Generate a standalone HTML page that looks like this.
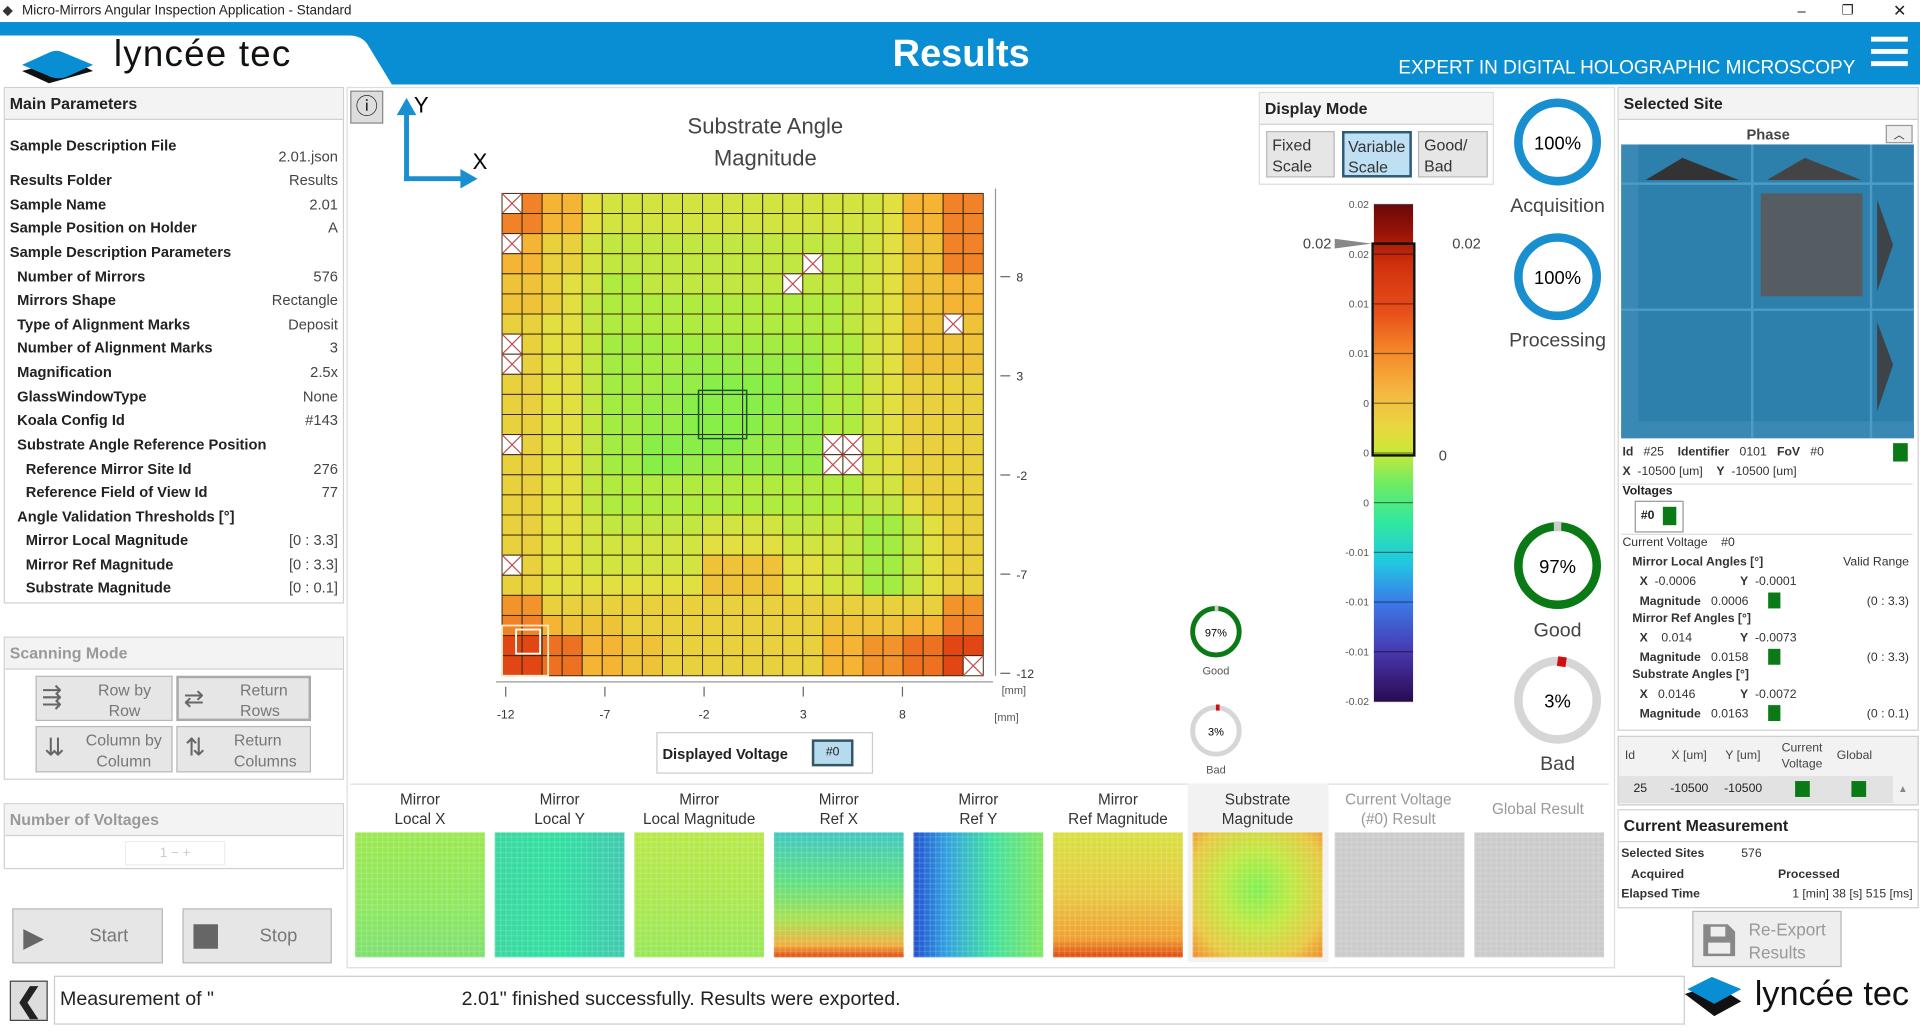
<!DOCTYPE html>
<html><head><meta charset="utf-8">
<style>
html,body{margin:0;padding:0;background:#fff;overflow:hidden}
#root{position:absolute;left:0;top:0;width:1568px;height:843px;transform:scale(1.22449,1.2242);transform-origin:0 0;font-family:"Liberation Sans",sans-serif;color:#222;background:#fff}
.a{position:absolute}
.b{font-weight:bold}
.lbl{position:absolute;font-size:12px;font-weight:bold;color:#222;white-space:nowrap}
.val{position:absolute;font-size:12px;color:#444;right:0;white-space:nowrap}
.panel{position:absolute;border:1px solid #d0d0d0;background:#fff}
.ph{position:absolute;left:0;right:0;top:0;background:#f3f3f3;border-bottom:1px solid #d0d0d0;font-size:13px;font-weight:bold;padding:5px 4px;box-sizing:border-box}
.btn{position:absolute;background:#e6e6e6;border:1px solid #b8b8b8;font-size:13px;color:#777;box-sizing:border-box}
.thumbT{position:absolute;font-size:12.5px;text-align:center;line-height:16px;color:#333}
.th{position:absolute;width:106px;height:102px;top:680px}
.th::after{content:"";position:absolute;inset:0;background-image:linear-gradient(90deg,rgba(255,255,255,0.12) 1px,transparent 1px),linear-gradient(0deg,rgba(255,255,255,0.12) 1px,transparent 1px);background-size:4.4px 4.25px}
</style></head><body>
<div id="root">
<!-- title bar -->
<div class="a" style="left:0;top:0;width:1568px;height:18px;background:#fff;font-size:11px;line-height:18px">
 <span style="position:absolute;left:2px;top:0;color:#333">◆</span><span style="position:absolute;left:18px">Micro-Mirrors Angular Inspection Application - Standard</span>
 <span style="position:absolute;left:1468px;font-size:12px">–</span>
 <span style="position:absolute;left:1504px;font-size:11px">❐</span>
 <span style="position:absolute;left:1546px;font-size:13px">✕</span>
</div>
<!-- header -->
<div class="a" style="left:0;top:18px;width:1568px;height:51px;background:#0a8ed3"></div>
<svg class="a" style="left:0;top:18px" width="400" height="51">
 <path d="M0 11 L285 11 Q295 11 300 18 L320 51 L0 51 Z" fill="#fff"/>
 <path d="M18 40 L40 50 L76 40 L56 30 Z" fill="#111"/>
 <path d="M18 35 L40 25 Q46 22 52 25 L76 35 L54 45 Q48 47 42 45 Z" fill="#0a8ed3"/>
</svg>
<div class="a" style="left:93px;top:28px;font-size:30px;color:#111;letter-spacing:1px">lyncée tec</div>
<div class="a b" style="left:700px;top:26px;width:170px;text-align:center;font-size:31px;color:#fff">Results</div>
<div class="a" style="left:1142px;top:47px;font-size:15.5px;color:#fff">EXPERT IN DIGITAL HOLOGRAPHIC MICROSCOPY</div>
<div class="a" style="left:1528px;top:30px;width:30px">
 <div style="height:4px;background:#fff;margin-bottom:6px"></div><div style="height:4px;background:#fff;margin-bottom:6px"></div><div style="height:4px;background:#fff"></div></div>

<!-- left main params -->
<div class="panel" style="left:3px;top:71px;width:276px;height:420px">
 <div class="ph" style="height:26px">Main Parameters</div>
 <div class="a" style="left:4px;right:4px;top:0;height:420px">
  <div class="lbl" style="left:0;top:40px">Sample Description File</div><div class="val" style="top:49px">2.01.json</div>
  <div class="lbl" style="left:0;top:68px">Results Folder</div><div class="val" style="top:68px">Results</div>
  <div class="lbl" style="left:0;top:88px">Sample Name</div><div class="val" style="top:88px">2.01</div>
  <div class="lbl" style="left:0;top:107px">Sample Position on Holder</div><div class="val" style="top:107px">A</div>
  <div class="lbl" style="left:0;top:127px">Sample Description Parameters</div>
  <div class="lbl" style="left:6px;top:147px">Number of Mirrors</div><div class="val" style="top:147px">576</div>
  <div class="lbl" style="left:6px;top:166px">Mirrors Shape</div><div class="val" style="top:166px">Rectangle</div>
  <div class="lbl" style="left:6px;top:186px">Type of Alignment Marks</div><div class="val" style="top:186px">Deposit</div>
  <div class="lbl" style="left:6px;top:205px">Number of Alignment Marks</div><div class="val" style="top:205px">3</div>
  <div class="lbl" style="left:6px;top:225px">Magnification</div><div class="val" style="top:225px">2.5x</div>
  <div class="lbl" style="left:6px;top:245px">GlassWindowType</div><div class="val" style="top:245px">None</div>
  <div class="lbl" style="left:6px;top:264px">Koala Config Id</div><div class="val" style="top:264px">#143</div>
  <div class="lbl" style="left:6px;top:284px">Substrate Angle Reference Position</div>
  <div class="lbl" style="left:13px;top:304px">Reference Mirror Site Id</div><div class="val" style="top:304px">276</div>
  <div class="lbl" style="left:13px;top:323px">Reference Field of View Id</div><div class="val" style="top:323px">77</div>
  <div class="lbl" style="left:6px;top:343px">Angle Validation Thresholds [°]</div>
  <div class="lbl" style="left:13px;top:362px">Mirror Local Magnitude</div><div class="val" style="top:362px">[0 : 3.3]</div>
  <div class="lbl" style="left:13px;top:382px">Mirror Ref Magnitude</div><div class="val" style="top:382px">[0 : 3.3]</div>
  <div class="lbl" style="left:13px;top:401px">Substrate Magnitude</div><div class="val" style="top:401px">[0 : 0.1]</div>
 </div>
</div>
<!-- scanning mode -->
<div class="panel" style="left:3px;top:520px;width:276px;height:115px">
 <div class="ph" style="height:26px;color:#999">Scanning Mode</div>
 <div class="btn" style="left:25px;top:31px;width:112px;height:37px"><span class="a" style="left:4px;top:4px;font-size:20px;color:#666">⇶</span><span class="a" style="left:50px;top:2px;text-align:center;line-height:17px">Row by<br>Row</span></div>
 <div class="btn" style="left:140px;top:31px;width:110px;height:37px;border:2px solid #aaa"><span class="a" style="left:4px;top:4px;font-size:20px;color:#666">⇄</span><span class="a" style="left:50px;top:1px;line-height:17px">Return<br>Rows</span></div>
 <div class="btn" style="left:25px;top:72px;width:112px;height:38px"><span class="a" style="left:6px;top:4px;font-size:20px;color:#666">⇊</span><span class="a" style="left:40px;top:2px;line-height:17px;text-align:center">Column by<br>Column</span></div>
 <div class="btn" style="left:140px;top:72px;width:110px;height:38px"><span class="a" style="left:6px;top:4px;font-size:20px;color:#666">⇅</span><span class="a" style="left:46px;top:2px;line-height:17px">Return<br>Columns</span></div>
</div>
<!-- number of voltages -->
<div class="panel" style="left:3px;top:656px;width:276px;height:52px">
 <div class="ph" style="height:26px;color:#999">Number of Voltages</div>
 <div class="a" style="left:98px;top:30px;width:80px;height:18px;border:1px solid #eee;font-size:11px;color:#ccc;text-align:center;line-height:18px">1 − +</div>
</div>
<div class="btn" style="left:10px;top:742px;width:123px;height:45px;font-size:15px"><span class="a" style="left:8px;top:10px;font-size:22px;color:#666">▶</span><span class="a" style="left:62px;top:13px">Start</span></div>
<div class="btn" style="left:149px;top:742px;width:122px;height:45px;font-size:15px"><span class="a" style="left:8px;top:12px;width:20px;height:20px;background:#666"></span><span class="a" style="left:62px;top:13px">Stop</span></div>

<!-- center panel -->
<div class="a" style="left:283px;top:71px;width:1034px;height:718px;border:1px solid #ddd"></div>
<div class="a" style="left:286px;top:74px;width:27px;height:27px;background:#ddd;border:1px solid #888;box-sizing:border-box;font-size:18px;text-align:center;line-height:25px">ⓘ</div>
<svg class="a" style="left:320px;top:74px" width="80" height="80">
 <path d="M12 74 L12 16" stroke="#1a8fd0" stroke-width="4"/><path d="M4 20 L12 6 L20 20Z" fill="#1a8fd0"/>
 <path d="M10 72 L58 72" stroke="#1a8fd0" stroke-width="4"/><path d="M56 64 L70 72 L56 80Z" fill="#1a8fd0"/>
 <text x="18" y="18" font-size="18" font-family="Liberation Sans">Y</text><text x="66" y="64" font-size="18" font-family="Liberation Sans">X</text>
</svg>
<div class="a" style="left:500px;top:90px;width:250px;text-align:center;font-size:18px;color:#444;line-height:26px">Substrate Angle<br>Magnitude</div>
<svg id="hm" class="a" style="left:395px;top:150px" width="460" height="450"></svg>

<div class="a" style="left:536px;top:598px;width:177px;height:34px;border:1px solid #ccc;box-sizing:border-box">
 <span class="a b" style="left:4px;top:10px;font-size:12px">Displayed Voltage</span>
 <span class="a" style="left:126px;top:5px;width:34px;height:22px;background:#b7dbee;border:2px solid #356;box-sizing:border-box;font-size:10px;text-align:center;line-height:18px">#0</span>
</div>

<!-- display mode -->
<div class="a" style="left:1028px;top:75px;width:192px;height:76px;border:1px solid #ddd;box-sizing:border-box">
 <div class="ph" style="height:26px;background:#f5f5f5">Display Mode</div>
 <div class="btn" style="left:5px;top:31px;width:56px;height:38px;color:#333;line-height:17px;padding:2px 4px">Fixed<br>Scale</div>
 <div class="btn" style="left:67px;top:31px;width:57px;height:38px;color:#333;line-height:17px;padding:2px 3px;background:#bfe0f3;border:2px solid #2a5a7a">Variable<br>Scale</div>
 <div class="btn" style="left:129px;top:31px;width:57px;height:38px;color:#333;line-height:17px;padding:2px 4px">Good/<br>Bad</div>
</div>
<svg id="cb" class="a" style="left:1050px;top:155px" width="170" height="430"></svg>

<!-- gauges -->
<svg class="a" style="left:1228px;top:72px" width="90" height="570" font-family="Liberation Sans">
 <circle cx="44" cy="44" r="32" fill="none" stroke="#1a8fd0" stroke-width="7"/>
 <text x="44" y="50" text-anchor="middle" font-size="15">100%</text>
 <text x="44" y="101" text-anchor="middle" font-size="16" fill="#444">Acquisition</text>
 <circle cx="44" cy="154" r="32" fill="none" stroke="#1a8fd0" stroke-width="7"/>
 <text x="44" y="160" text-anchor="middle" font-size="15">100%</text>
 <text x="44" y="211" text-anchor="middle" font-size="16" fill="#444">Processing</text>
 <circle cx="44" cy="390" r="32" fill="none" stroke="#0a7a16" stroke-width="7"/>
 <path d="M41 358 L47 358" stroke="#ccc" stroke-width="8"/>
 <text x="44" y="396" text-anchor="middle" font-size="15">97%</text>
 <text x="44" y="448" text-anchor="middle" font-size="16" fill="#444">Good</text>
 <circle cx="44" cy="500" r="32" fill="none" stroke="#d6d6d6" stroke-width="7"/>
 <path d="M44 468 L51 469" stroke="#d01010" stroke-width="8"/>
 <text x="44" y="506" text-anchor="middle" font-size="15">3%</text>
 <text x="44" y="557" text-anchor="middle" font-size="16" fill="#444">Bad</text>
</svg>
<svg class="a" style="left:965px;top:490px" width="60" height="150" font-family="Liberation Sans">
 <circle cx="28" cy="26" r="19" fill="none" stroke="#0a7a16" stroke-width="4"/><path d="M27 7 L30 7" stroke="#ccc" stroke-width="5"/>
 <text x="28" y="30" text-anchor="middle" font-size="9">97%</text><text x="28" y="61" text-anchor="middle" font-size="9" fill="#555">Good</text>
 <circle cx="28" cy="107" r="19" fill="none" stroke="#d6d6d6" stroke-width="4"/><path d="M28 88 L31 88" stroke="#d01010" stroke-width="5"/>
 <text x="28" y="111" text-anchor="middle" font-size="9">3%</text><text x="28" y="142" text-anchor="middle" font-size="9" fill="#555">Bad</text>
</svg>

<!-- thumbnails -->
<div class="a" style="left:286px;top:640px;width:1028px;height:146px;border-top:1px solid #ddd"></div>
<div class="a" style="left:970px;top:640px;width:115px;height:146px;background:#f2f2f2"></div>
<div class="thumbT" style="left:288px;top:645px;width:110px">Mirror<br>Local X</div>
<div class="thumbT" style="left:402px;top:645px;width:110px">Mirror<br>Local Y</div>
<div class="thumbT" style="left:516px;top:645px;width:110px">Mirror<br>Local Magnitude</div>
<div class="thumbT" style="left:630px;top:645px;width:110px">Mirror<br>Ref X</div>
<div class="thumbT" style="left:744px;top:645px;width:110px">Mirror<br>Ref Y</div>
<div class="thumbT" style="left:858px;top:645px;width:110px">Mirror<br>Ref Magnitude</div>
<div class="thumbT" style="left:972px;top:645px;width:110px">Substrate<br>Magnitude</div>
<div class="thumbT" style="left:1086px;top:645px;width:112px;color:#999">Current Voltage<br>(#0) Result</div>
<div class="thumbT" style="left:1200px;top:653px;width:112px;color:#999">Global Result</div>
<div class="th" style="left:290px;background:linear-gradient(180deg,#9be850,#8ee860 60%,#7ee070)"></div>
<div class="th" style="left:404px;background:linear-gradient(90deg,#3ad8a0,#30e0a0 50%,#40c8b0)"></div>
<div class="th" style="left:518px;background:linear-gradient(180deg,#b8e848,#a8e850 60%,#98e858)"></div>
<div class="th" style="left:632px;background:linear-gradient(180deg,#40c8c0,#60e080 40%,#a8e050 70%,#f0b040 90%,#e04a10)"></div>
<div class="th" style="left:746px;background:linear-gradient(90deg,#2050d0,#30a0e0 25%,#40e0a0 60%,#80e860)"></div>
<div class="th" style="left:860px;background:linear-gradient(180deg,#d8e040,#e8c840 50%,#f0a030 85%,#e04a10)"></div>
<div class="th" style="left:974px;background:radial-gradient(ellipse at 50% 45%,#80f050,#c0e840 40%,#e8c840 75%,#f08a2a)"></div>
<div class="th" style="left:1090px;background:#cbcbcb"></div>
<div class="th" style="left:1204px;background:#cbcbcb"></div>

<!-- right panel -->
<div class="panel" style="left:1321px;top:71px;width:244px;height:524px">
 <div class="ph" style="height:26px">Selected Site</div>
 <div class="a b" style="left:0;right:0;top:31px;text-align:center;font-size:12px;color:#444">Phase</div>
 <div class="a" style="left:218px;top:30px;width:20px;height:13px;border:1px solid #999;background:#eee;font-size:9px;text-align:center">︿</div>
 <div class="a" style="left:2px;top:46px;width:239px;height:240px;background:#2d7fac;overflow:hidden">
  <div class="a" style="left:0;top:0;width:14px;height:240px;background:#3a88b4"></div>
  <div class="a" style="left:0;top:226px;width:239px;height:14px;background:#3a88b4"></div>
  <div class="a" style="left:0;top:31px;width:239px;height:2px;background:#4d9cc8"></div>
  <div class="a" style="left:106px;top:0;width:2px;height:240px;background:#4d9cc8"></div>
  <div class="a" style="left:203px;top:0;width:2px;height:240px;background:#4d9cc8"></div>
  <div class="a" style="left:0;top:134px;width:239px;height:2px;background:#4d9cc8"></div>
  <div class="a" style="left:114px;top:40px;width:83px;height:84px;background:#555c62"></div>
  <svg class="a" style="left:0;top:0" width="239" height="240"><path d="M20 29 L50 11 L96 29Z" fill="#333"/><path d="M119 29 L150 11 L196 29Z" fill="#444"/><path d="M209 45 L222 82 L209 120Z" fill="#3d4348"/><path d="M209 145 L222 180 L209 218Z" fill="#3d4348"/></svg>
 </div>
 <div class="a" style="left:3px;top:290px;width:238px;font-size:10px;line-height:16px;color:#333">
  <b>Id</b>&nbsp;&nbsp; #25 &nbsp;&nbsp; <b>Identifier</b> &nbsp; 0101 &nbsp; <b>FoV</b> &nbsp; #0<br><b>X</b> &nbsp;-10500 [um] &nbsp;&nbsp; <b>Y</b> &nbsp;-10500 [um]</div>
 <div class="a" style="left:224px;top:290px;width:12px;height:15px;background:#0a7a16"></div>
 <div class="a" style="left:2px;top:323px;width:238px;border-top:1px solid #ddd"></div>
 <div class="a b" style="left:3px;top:324px;font-size:10px">Voltages</div>
 <div class="a" style="left:13px;top:337px;width:38px;height:24px;border:1px solid #999;font-size:10px;font-weight:bold"><span class="a" style="left:4px;top:6px">#0</span><span class="a" style="left:22px;top:4px;width:11px;height:15px;background:#0a7a16"></span></div>
 <div class="a" style="left:2px;top:364px;width:238px;border-top:1px solid #ddd"></div>
 <div class="a" style="left:3px;top:366px;width:238px;height:160px;font-size:10px;color:#333">
  <div class="a" style="top:0;left:0">Current Voltage &nbsp;&nbsp; #0</div>
  <div class="a b" style="top:16px;left:8px">Mirror Local Angles [°]</div><div class="a" style="top:16px;right:4px">Valid Range</div>
  <div class="a" style="top:32px;left:14px"><b>X</b> &nbsp;-0.0006</div><div class="a" style="top:32px;left:96px"><b>Y</b> &nbsp;-0.0001</div>
  <div class="a" style="top:48px;left:14px"><b>Magnitude</b> &nbsp;&nbsp;0.0006</div><div class="a" style="top:46px;left:119px;width:10px;height:13px;background:#0a7a16"></div><div class="a" style="top:48px;right:4px">(0 : 3.3)</div>
  <div class="a b" style="top:62px;left:8px">Mirror Ref Angles [°]</div>
  <div class="a" style="top:78px;left:14px"><b>X</b> &nbsp;&nbsp;&nbsp;0.014</div><div class="a" style="top:78px;left:96px"><b>Y</b> &nbsp;-0.0073</div>
  <div class="a" style="top:94px;left:14px"><b>Magnitude</b> &nbsp;&nbsp;0.0158</div><div class="a" style="top:92px;left:119px;width:10px;height:13px;background:#0a7a16"></div><div class="a" style="top:94px;right:4px">(0 : 3.3)</div>
  <div class="a b" style="top:108px;left:8px">Substrate Angles [°]</div>
  <div class="a" style="top:124px;left:14px"><b>X</b> &nbsp;&nbsp;0.0146</div><div class="a" style="top:124px;left:96px"><b>Y</b> &nbsp;-0.0072</div>
  <div class="a" style="top:140px;left:14px"><b>Magnitude</b> &nbsp;&nbsp;0.0163</div><div class="a" style="top:138px;left:119px;width:10px;height:13px;background:#0a7a16"></div><div class="a" style="top:140px;right:4px">(0 : 0.1)</div>
 </div>
</div>
<!-- table -->
<div class="a" style="left:1321px;top:601px;width:244px;height:55px;border:1px solid #ccc;background:#f2f2f2;font-size:10px;color:#444">
 <div class="a" style="left:5px;top:10px">Id</div><div class="a" style="left:43px;top:10px">X [um]</div><div class="a" style="left:87px;top:10px">Y [um]</div><div class="a" style="left:133px;top:3px;line-height:13px;text-align:center">Current<br>Voltage</div><div class="a" style="left:178px;top:10px">Global</div>
 <div class="a" style="left:0;top:32px;width:224px;height:22px;background:#e2e2e2"></div>
 <div class="a" style="left:12px;top:37px;color:#222">25</div><div class="a" style="left:42px;top:37px;color:#222">-10500</div><div class="a" style="left:86px;top:37px;color:#222">-10500</div>
 <div class="a" style="left:144px;top:36px;width:12px;height:13px;background:#0a7a16"></div><div class="a" style="left:190px;top:36px;width:12px;height:13px;background:#0a7a16"></div>
 <div class="a" style="left:228px;top:38px;font-size:8px;color:#888">▲</div>
</div>
<div class="panel" style="left:1321px;top:661px;width:244px;height:79px">
 <div class="ph" style="height:26px;background:#fff">Current Measurement</div>
 <div class="a" style="left:2px;top:30px;font-size:10px;width:238px;color:#333">
  <div class="a b" style="top:0">Selected Sites</div><div class="a" style="top:0;left:98px">576</div>
  <div class="a b" style="top:17px;left:8px">Acquired</div><div class="a b" style="top:17px;left:128px">Processed</div>
  <div class="a b" style="top:33px">Elapsed Time</div><div class="a" style="top:33px;right:0">1 [min] 38 [s] 515 [ms]</div>
 </div>
</div>
<div class="btn" style="left:1382px;top:744px;width:122px;height:46px;background:#eee;font-size:14px;color:#999">
 <svg class="a" style="left:6px;top:8px" width="30" height="30"><path d="M2 2 H22 L28 8 V28 H2Z" fill="#888"/><rect x="8" y="4" width="12" height="8" fill="#eee"/><rect x="6" y="17" width="18" height="9" fill="#eee"/></svg>
 <span class="a" style="left:45px;top:5px;line-height:19px">Re-Export<br>Results</span></div>

<!-- status bar -->
<div class="a" style="left:8px;top:801px;width:29px;height:31px;border:1px solid #444;background:#ddd;font-size:26px;font-weight:bold;text-align:center;line-height:30px">❮</div>
<div class="a" style="left:44px;top:797px;width:1330px;height:38px;border:1px solid #ccc;font-size:16px;line-height:38px"><span style="position:absolute;left:4px">Measurement of "</span><span style="position:absolute;left:332px">2.01" finished successfully. Results were exported.</span></div>
<svg class="a" style="left:1376px;top:796px" width="60" height="40"><path d="M0 16 L24 34 L46 22 L24 8Z" fill="#111"/><path d="M2 12 L22 2 L46 12 L24 24Z" fill="#0a8ed3"/></svg>
<div class="a" style="left:1433px;top:796px;font-size:28px;color:#111">lyncée tec</div>
</div>

<script>
// Substrate magnitude heatmap data (values in 1e-3 units; null = invalid site)
const xTicks = [-12,-7,-2,3,8];
const yTicks = [8,3,-2,-7,-12];
const row00=[null,15,12,12,9,8,8,8,8,8,8,8,8,8,8,8,8,8,8,9,12,12,15,15];
const row01=[15,15,12,12,9,8,8,8,8,8,8,8,8,8,8,8,8,8,8,9,12,12,15,15];
const row02=[null,12,10,10,8,7,7,7,7,7,7,7,7,7,7,7,7,7,8,9,11,11,15,15];
const row03=[12,12,10,10,8,7,7,7,7,7,7,7,7,7,7,null,7,7,8,9,11,11,15,15];
const row04=[11,11,10,9,8,6,6,7,7,7,7,7,7,7,null,7,7,7,8,9,11,11,12,12];
const row05=[11,11,10,9,7,6,6,6,6,6,6,6,6,6,6,6,6,7,8,9,11,11,12,12];
const row06=[10,10,9,9,7,6,6,6,6,6,6,6,6,6,6,6,6,7,8,9,11,11,null,11];
const row07=[null,10,9,9,7,5,5,5,5,5,5,5,5,5,5,5,6,6,8,9,11,11,11,11];
const row08=[null,10,9,9,7,5,5,5,5,4,4,4,4,4,4,4,6,6,8,9,11,11,11,11];
const row09=[10,10,9,9,7,5,5,5,4,4,3,3,3,3,4,4,6,6,8,9,10,10,10,10];
const row10=[10,10,9,9,7,5,5,4,4,3,3,3,3,3,4,4,6,6,8,9,10,10,10,10];
const row11=[10,10,9,9,7,5,5,4,4,3,3,3,3,4,4,4,6,6,8,9,10,10,10,10];
const row12=[null,10,9,9,7,5,5,3,3,3,3,3,4,4,4,4,null,null,8,9,10,10,10,10];
const row13=[10,10,9,9,7,5,5,3,3,4,4,4,4,4,4,4,null,null,8,9,10,10,10,10];
const row14=[10,10,9,9,7,6,6,6,6,6,6,6,6,6,6,6,6,6,8,8,10,10,10,10];
const row15=[10,10,9,9,7,6,6,6,6,6,6,6,6,6,6,6,6,6,7,7,9,10,10,10];
const row16=[10,10,9,9,8,7,7,7,7,7,8,8,8,8,7,7,7,7,5,5,7,9,10,10];
const row17=[10,10,9,9,8,8,8,8,8,8,9,9,9,9,8,8,8,7,5,5,7,9,10,10];
const row18=[null,10,9,9,8,8,8,8,8,8,11,11,11,11,9,9,8,7,5,5,7,9,10,10];
const row19=[10,10,9,9,9,9,9,9,9,9,11,11,11,11,9,9,8,8,5,5,7,9,10,10];
const row20=[14,14,10,10,10,10,10,10,10,10,10,10,10,10,10,10,10,10,10,10,10,10,14,14];
const row21=[15,15,12,11,11,11,10,10,10,10,10,10,10,10,10,10,11,11,11,11,12,12,15,15];
const row22=[18,18,16,16,12,12,11,11,10,10,10,10,10,10,10,10,12,12,14,14,16,16,18,18];
const row23=[18,18,16,16,12,12,11,11,10,10,10,10,10,10,10,10,12,12,14,14,16,16,18,null];
const grid=[row00,row01,row02,row03,row04,row05,row06,row07,row08,row09,row10,row11,row12,row13,row14,row15,row16,row17,row18,row19,row20,row21,row22,row23];
const cbTicks=["0.02","0.02","0.01","0.01","0","0","0","-0.01","-0.01","-0.01","-0.02"];

const NS="http://www.w3.org/2000/svg";
function mk(p,t,a){const e=document.createElementNS(NS,t);for(const k in a)e.setAttribute(k,a[k]);p.appendChild(e);return e;}
const stops=[[0,[96,240,80]],[0.3,[176,236,64]],[0.45,[226,224,64]],[0.6,[245,180,52]],[0.78,[240,120,36]],[0.9,[226,70,20]],[1,[180,20,10]]];
function col(v){let t=Math.max(0,Math.min(1,v/20));for(let i=1;i<stops.length;i++){if(t<=stops[i][0]){const a=stops[i-1],b=stops[i];const f=(t-a[0])/(b[0]-a[0]);return "rgb("+a[1].map((c,j)=>Math.round(c+(b[1][j]-c)*f)).join(",")+")";}}return "rgb(180,20,10)";}

const hm=document.getElementById('hm');
const ox=410-395, oy=158-150, W=393, H=394, n=24;
const cw=W/n, ch=H/n;
const xs=v=>(413-395)+(v+12)*16.2;
const ys=v=>(550-150)-(v+12)*16.2;
grid.forEach((row,r)=>row.forEach((v,c)=>{
 const x=ox+c*cw,y=oy+r*ch;
 const rect=mk(hm,'rect',{x:x,y:y,width:cw,height:ch,fill:v===null?'#fff':col(v),stroke:'#3a2a10','stroke-width':0.8});
 
 
 if(v===null){mk(hm,'path',{d:`M${x} ${y}L${x+cw} ${y+ch}M${x+cw} ${y}L${x} ${y+ch}`,stroke:'#c05050','stroke-width':1});}
}));
mk(hm,'rect',{x:ox+9.8*cw,y:oy+9.8*ch,width:2.4*cw,height:2.4*ch,fill:'none',stroke:'#135a2a','stroke-width':1.2});
mk(hm,'rect',{x:ox,y:oy+21.5*ch,width:2.3*cw,height:2.5*ch,fill:'none',stroke:'#f8e8c0','stroke-width':1.5});
mk(hm,'rect',{x:ox+1*cw-cw*0.3,y:oy+22*ch-ch*0.3,width:1.2*cw,height:1.2*ch,fill:'none',stroke:'#fff','stroke-width':1.5});
mk(hm,'line',{x1:418,y1:4,x2:418,y2:402,stroke:'#999','stroke-width':1});
mk(hm,'line',{x1:10,y1:407,x2:416,y2:407,stroke:'#999','stroke-width':1});
xTicks.forEach(t=>{const x=xs(t);mk(hm,'line',{x1:x,y1:411,x2:x,y2:419,stroke:'#666'});const tx=mk(hm,'text',{x:x,y:437,'text-anchor':'middle','font-size':10,'font-family':'Liberation Sans',fill:'#333'});tx.textContent=t;});
yTicks.forEach(t=>{const y=ys(t);mk(hm,'line',{x1:422,y1:y,x2:430,y2:y,stroke:'#666'});const tx=mk(hm,'text',{x:435,y:y+4,'font-size':10,'font-family':'Liberation Sans',fill:'#333'});tx.textContent=t;});
let u=mk(hm,'text',{x:423,y:417,'font-size':9,'font-family':'Liberation Sans',fill:'#555'});u.textContent='[mm]';
u=mk(hm,'text',{x:417,y:439,'font-size':9,'font-family':'Liberation Sans',fill:'#555'});u.textContent='[mm]';

// colorbar
const cb=document.getElementById('cb');
const defs=mk(cb,'defs',{});const lg=mk(defs,'linearGradient',{id:'jet',x1:0,y1:0,x2:0,y2:1});
[[0,'#6a0808'],[0.06,'#9a1408'],[0.12,'#d0300c'],[0.22,'#e8501a'],[0.3,'#f58a2a'],[0.38,'#f5b840'],[0.45,'#e8d840'],[0.5,'#c8e838'],[0.56,'#70ec60'],[0.64,'#30e8a0'],[0.72,'#20c8e0'],[0.8,'#3a7ce8'],[0.9,'#4838b0'],[1,'#2a0a50']].forEach(s=>mk(lg,'stop',{offset:s[0],'stop-color':s[1]}));
const bx=1122-1050, by=167-155, bw=32, bh=406;
mk(cb,'rect',{x:bx,y:by,width:bw,height:bh,fill:'url(#jet)'});
cbTicks.forEach((t,i)=>{const y=by+i*bh/10;mk(cb,'line',{x1:bx,y1:y,x2:bx+bw,y2:y,stroke:'rgba(0,0,0,0.45)','stroke-width':1});const tx=mk(cb,'text',{x:bx-4,y:y+3,'text-anchor':'end','font-size':8.5,'font-family':'Liberation Sans',fill:'#555'});tx.textContent=t;});
mk(cb,'rect',{x:bx-1,y:199-155,width:bw+2,height:173,fill:'none',stroke:'#111','stroke-width':2});
mk(cb,'path',{d:`M${bx-32} 40 L${bx-2} 44 L${bx-32} 48Z`,fill:'#888'});
let l=mk(cb,'text',{x:bx-58,y:48,'font-size':12,'font-family':'Liberation Sans',fill:'#444'});l.textContent='0.02';
l=mk(cb,'text',{x:bx+64,y:48,'font-size':12,'font-family':'Liberation Sans',fill:'#444'});l.textContent='0.02';
l=mk(cb,'text',{x:bx+53,y:221,'font-size':12,'font-family':'Liberation Sans',fill:'#444'});l.textContent='0';
</script>
</body></html>
